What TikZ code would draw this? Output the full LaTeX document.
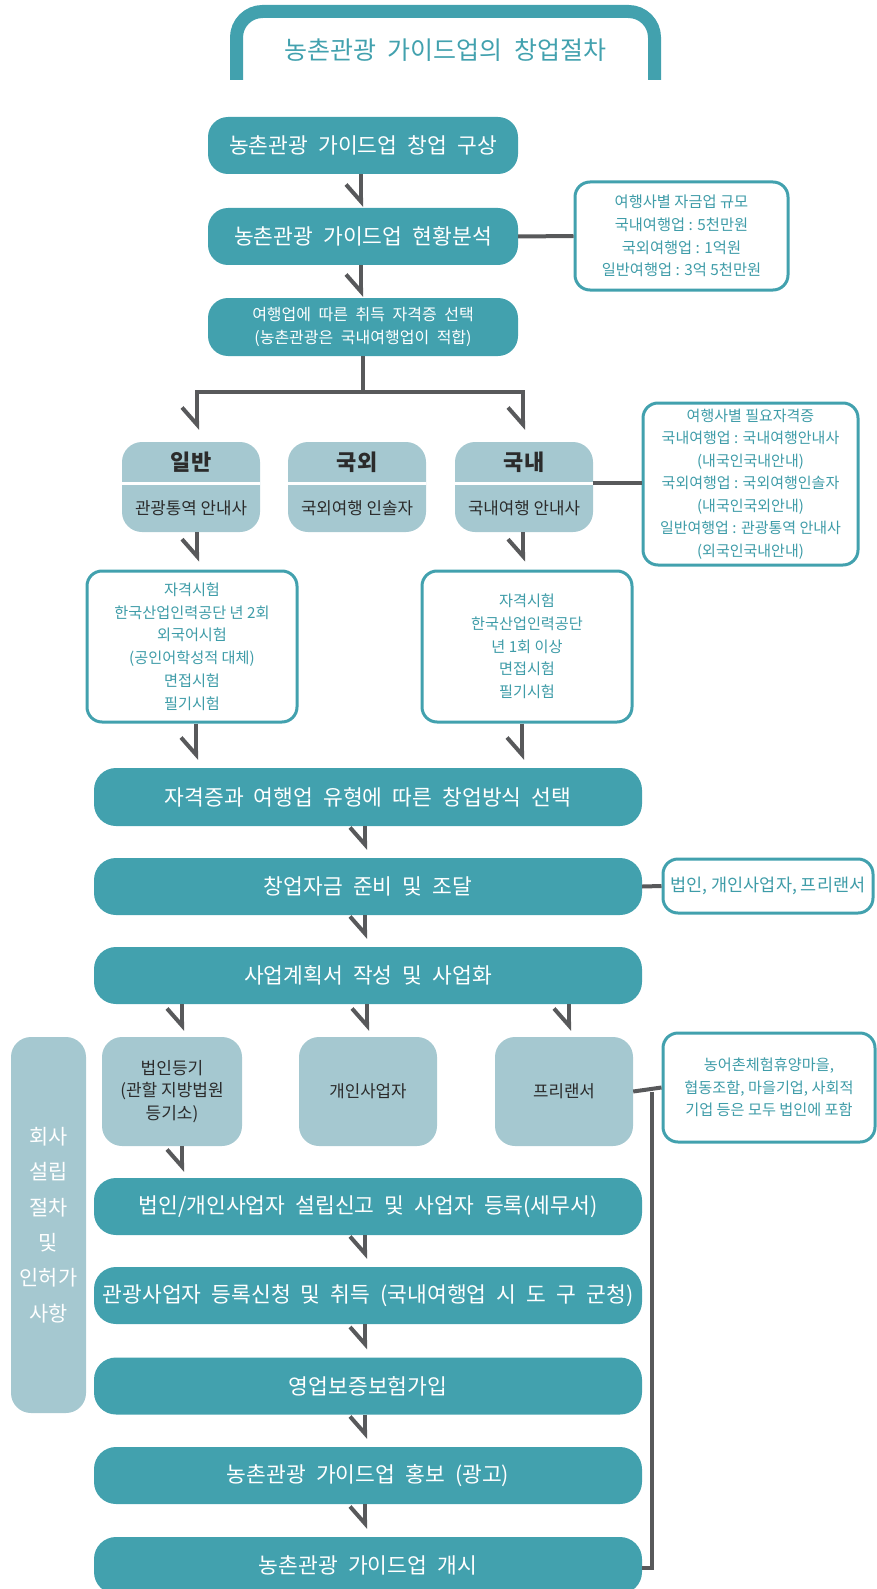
\documentclass[tikz,border=0pt]{standalone}
\usepackage{fontspec}
\setmainfont{Noto Sans CJK KR}
\newfontfamily\wsf{Noto Sans CJK KR}[WordSpace=2.1]
\usetikzlibrary{arrows.meta}
\definecolor{teal1}{HTML}{42A1AE}
\definecolor{lightb}{HTML}{A5C8D0}
\definecolor{lgray}{HTML}{58595B}
\definecolor{tealtxt}{HTML}{3E9CA8}
\definecolor{darktxt}{HTML}{2B2B2B}
\tikzset{
  wbox/.style={fill=teal1, rounded corners=22pt, minimum width=548pt, minimum height=57pt, text=white, font=\wsf\fontsize{21.5}{25}\selectfont, inner sep=0pt},
  tbox/.style={fill=teal1, rounded corners=20pt, minimum width=310pt, minimum height=57pt, text=white, inner sep=0pt, align=center},
  lbox/.style={fill=lightb, rounded corners=20pt, inner sep=0pt},
  ibox/.style={draw=teal1, line width=3pt, fill=white, rounded corners=15pt, text=tealtxt, align=center, inner sep=0pt},
  hdr/.style={text=darktxt, font=\fontsize{22}{25}\selectfont\bfseries, inner sep=0pt},
  subt/.style={text=darktxt, font=\fontsize{16.8}{20}\selectfont, inner sep=0pt},
  arr/.style={draw=lgray, line width=4pt, -{Straight Barb[right,length=17pt,width=30pt]}, shorten >=3pt},
  conn/.style={draw=lgray, line width=4pt},
}
\begin{document}
\begin{tikzpicture}[x=1pt,y=-1pt]
\useasboundingbox (0,0) rectangle (876,1589);
% title bracket
\draw[teal1, line width=13pt, rounded corners=26pt] (236.5,80) -- (236.5,11.5) -- (654.5,11.5) -- (654.5,80);
\node[text=teal1, font=\wsf\fontsize{25}{29}\selectfont, inner sep=0pt] (title) at (445.5,50) {농촌관광 가이드업의 창업절차};

% top column
\node[tbox, font=\wsf\fontsize{21.5}{25}\selectfont] (b1) at (363,145.5) {농촌관광 가이드업 창업 구상};
\node[tbox, font=\wsf\fontsize{21.5}{25}\selectfont] (b2) at (363,236.5) {농촌관광 가이드업 현황분석};
\node[tbox, minimum height=58pt, font=\wsf\fontsize{16}{22.5}\selectfont] (b3) at (363,327) {여행업에 따른 취득 자격증 선택\\(농촌관광은 국내여행업이 적합)};

\node[ibox, minimum width=213pt, minimum height=108pt, font=\fontsize{15.3}{22.7}\selectfont] (info1) at (681.5,236) {여행사별 자금업 규모\\국내여행업 : 5천만원\\국외여행업 : 1억원\\일반여행업 : 3억 5천만원};

\draw[arr, shorten >=1pt] ([xshift=-2pt]b1.south) -- ([xshift=-2pt]b2.north);
\draw[arr, shorten >=1pt] ([xshift=-2pt]b2.south) -- ([xshift=-2pt]b3.north);
\draw[conn] (b2.east) -- (info1.west);

% three licence boxes
\node[lbox, minimum width=138pt, minimum height=90pt] (ilban) at (191,487) {};
\node[lbox, minimum width=138pt, minimum height=90pt] (gukoe) at (357,487) {};
\node[lbox, minimum width=138pt, minimum height=90pt] (gungnae) at (524,487) {};
\foreach \n in {ilban,gukoe,gungnae}{
  \draw[white, line width=3pt] (\n.west |- 0,483) -- (\n.east |- 0,483);
}
\node[hdr] (h1) at (191,462) {일반};
\node[hdr] (h2) at (357,462) {국외};
\node[hdr] (h3) at (524,462) {국내};
\node[subt] (s1t) at (191,508) {관광통역 안내사};
\node[subt] (s2t) at (357,508) {국외여행 인솔자};
\node[subt] (s3t) at (524,508) {국내여행 안내사};

\coordinate (br) at (363,392);
\draw[conn] (b3.south) -- (br);
\draw[arr, shorten >=12pt] (br) -| ([xshift=6pt]ilban.north);
\draw[arr, shorten >=12pt] (br) -| ([xshift=-1pt]gungnae.north);

\node[ibox, minimum width=215pt, minimum height=162pt, font=\fontsize{15}{22.5}\selectfont] (info2) at (750.5,484) {여행사별 필요자격증\\국내여행업 : 국내여행안내사\\(내국인국내안내)\\국외여행업 : 국외여행인솔자\\(내국인국외안내)\\일반여행업 : 관광통역 안내사\\(외국인국내안내)};
\draw[conn] (gungnae.east |- 0,483) -- (info2.west |- 0,483);

% exam boxes
\node[ibox, minimum width=210pt, minimum height=151pt, font=\fontsize{15.2}{22.7}\selectfont] (exam1) at (192,646.5) {자격시험\\한국산업인력공단 년 2회\\외국어시험\\(공인어학성적 대체)\\면접시험\\필기시험};
\node[ibox, minimum width=210pt, minimum height=151pt, font=\fontsize{15.2}{22.7}\selectfont] (exam2) at (527,646.5) {자격시험\\한국산업인력공단\\년 1회 이상\\면접시험\\필기시험};
\draw[arr, shorten >=8pt] ([xshift=6pt]ilban.south) -- ([xshift=6pt]ilban.south |- exam1.north);
\draw[arr, shorten >=8pt] ([xshift=-1pt]gungnae.south) -- ([xshift=-1pt]gungnae.south |- exam2.north);

% wide boxes
\node[wbox, minimum height=58pt] (w1) at (368,797) {자격증과 여행업 유형에 따른 창업방식 선택};
\node[wbox] (w2) at (368,886.5) {창업자금 준비 및 조달};
\node[wbox] (w3) at (368,975.5) {사업계획서 작성 및 사업화};
\draw[arr, shorten >=8pt] ([xshift=4pt]exam1.south) -- ([xshift=4pt]exam1.south |- w1.north);
\draw[arr, shorten >=8pt] ([xshift=-5pt]exam2.south) -- ([xshift=-5pt]exam2.south |- w1.north);
\draw[arr, shorten >=8pt] ([xshift=-3pt]w1.south) -- ([xshift=-3pt]w2.north);
\draw[arr, shorten >=8pt] ([xshift=-3pt]w2.south) -- ([xshift=-3pt]w3.north);

\node[ibox, minimum width=210pt, minimum height=54pt, font=\fontsize{17.5}{22}\selectfont] (fund) at (768,886) {법인, 개인사업자, 프리랜서};
\draw[conn] (w2.east) -- (fund.west);

% company type boxes
\node[lbox, minimum width=140pt, minimum height=109pt, text=darktxt, align=center, font=\fontsize{17}{22.5}\selectfont] (c1) at (172,1091.5) {법인등기\\(관할 지방법원\\등기소)};
\node[lbox, minimum width=138pt, minimum height=109pt, text=darktxt, font=\fontsize{16.8}{22.5}\selectfont] (c2) at (368,1091.5) {개인사업자};
\node[lbox, minimum width=138pt, minimum height=109pt, text=darktxt, font=\fontsize{16.8}{22.5}\selectfont] (c3) at (564,1091.5) {프리랜서};
\draw[arr, shorten >=6pt] ([xshift=-186pt]w3.south) -- ([xshift=10pt]c1.north);
\draw[arr, shorten >=6pt] ([xshift=-1pt]w3.south) -- ([xshift=-1pt]c2.north);
\draw[arr, shorten >=6pt] ([xshift=201pt]w3.south) -- ([xshift=5pt]c3.north);

\node[lbox, minimum width=75pt, minimum height=376pt, text=white, align=center, font=\fontsize{20.8}{35.3}\selectfont] (side) at (48.5,1225) {회사\\설립\\절차\\및\\인허가\\사항};

\node[ibox, minimum width=212pt, minimum height=109pt, font=\fontsize{15.2}{22.7}\selectfont] (info3) at (769,1087.5) {농어촌체험휴양마을,\\협동조함, 마을기업, 사회적\\기업 등은 모두 법인에 포함};

% lower wide boxes
\node[wbox] (w4) at (368,1206.5) {법인/개인사업자 설립신고 및 사업자 등록(세무서)};
\node[wbox] (w5) at (368,1295.5) {관광사업자 등록신청 및 취득 (국내여행업 시 도 구 군청)};
\node[wbox] (w6) at (368,1386) {영업보증보험가입};
\node[wbox] (w7) at (368,1475.5) {농촌관광 가이드업 홍보 (광고)};
\node[wbox] (w8) at (368,1565.5) {농촌관광 가이드업 개시};

\draw[arr, shorten >=6pt] ([xshift=10pt]c1.south) -- ([xshift=10pt]c1.south |- w4.north);
\draw[arr, shorten >=8pt] ([xshift=-3pt]w4.south) -- ([xshift=-3pt]w5.north);
\draw[arr, shorten >=8pt] ([xshift=-3pt]w5.south) -- ([xshift=-3pt]w6.north);
\draw[arr, shorten >=8pt] ([xshift=-3pt]w6.south) -- ([xshift=-3pt]w7.north);
\draw[arr, shorten >=8pt] ([xshift=-3pt]w7.south) -- ([xshift=-3pt]w8.north);

\coordinate (jn) at (652,1091.5);
\draw[conn] (c3.east) -- (info3.west);
\draw[conn] (jn) |- ([yshift=-2.5pt]w8.east);
\end{tikzpicture}
\end{document}
